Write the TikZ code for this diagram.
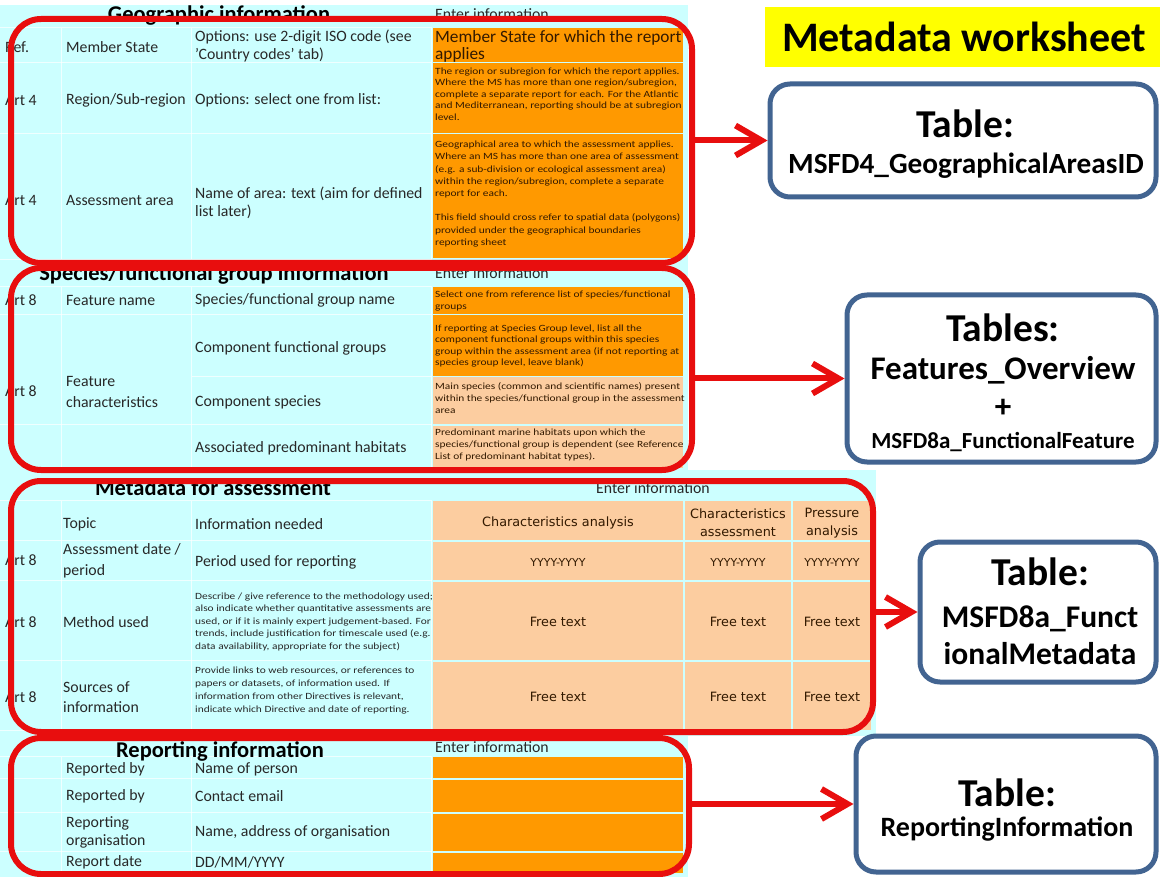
\documentclass[tikz,border=0pt]{standalone}
\usepackage{fontspec}
\setmainfont{Carlito}
\newfontfamily\vdfont{DejaVu Sans}
\newfontfamily\smallfont[FakeStretch=1.2]{Carlito}
\usetikzlibrary{arrows.meta}
\definecolor{redc}{RGB}{232,14,14}
\definecolor{bluec}{RGB}{66,100,145}
\definecolor{cyanc}{RGB}{204,255,255}
\definecolor{orgc}{RGB}{255,153,0}
\definecolor{peachc}{RGB}{252,205,160}
\definecolor{txtc}{RGB}{40,40,40}
\definecolor{otxt}{RGB}{50,25,0}
\definecolor{yelc}{RGB}{255,255,0}
\newcommand\myfs[2]{\fontsize{#1}{#2}\selectfont}
\begin{document}
\begin{tikzpicture}[x=1pt,y=-1pt,
  txt/.style={anchor=west,inner sep=0,text=txtc,font=\myfs{15.8}{18},align=left},
  smalltxt/.style={anchor=west,inner sep=0,text=otxt,font=\smallfont\myfs{9.5}{11.6},align=left},
  mtxt/.style={anchor=west,inner sep=0,text=txtc,font=\smallfont\myfs{9.5}{12.5},align=left},
  hdr/.style={inner sep=0,anchor=base,font=\bfseries\myfs{22.5}{24},text=black},
  enter/.style={inner sep=0,anchor=base west,font=\myfs{15.8}{18},text=txtc},
  vd/.style={inner sep=0,font=\vdfont\myfs{12.8}{18},text=otxt,align=center},
  yy/.style={inner sep=0,font=\vdfont\myfs{11}{13},text=otxt},
  redbox/.style={draw=redc,line width=6pt,rounded corners=30pt,inner sep=0},
  tbox/.style={draw=bluec,line width=5pt,rounded corners=20pt,fill=white,inner sep=0},
  arr/.style={draw=redc,line width=6pt,-{Straight Barb[length=26pt,width=30pt]}},
  btxt/.style={inner sep=0,font=\bfseries\myfs{#1}{#1},text=black},
  grid/.style={draw=white,line width=0.8pt,opacity=0.7}
]
\useasboundingbox (0,0) rectangle (1160,877);
% spreadsheet background
\fill[cyanc] (0,5) rectangle (688,470);
\fill[cyanc] (0,470) rectangle (876,736);
\fill[cyanc] (0,736) rectangle (688,877);
% grid lines
\foreach \yy in {27.5,62.5,133.5,259,286.5,314.5,424.5,500.5,540.5,580.5,660.5,730.5,756.5,778.5,812.5,851.5}
  \draw[grid] (0,\yy) -- (432,\yy);
\draw[grid] (192,376.5) -- (432,376.5);
\foreach \xx in {61,191,431}{
  \draw[grid] (\xx,28) -- (\xx,259);
  \draw[grid] (\xx,287) -- (\xx,468);
  \draw[grid] (\xx,501) -- (\xx,730);
  \draw[grid] (\xx,757) -- (\xx,873);
}
% orange cells
\fill[orgc] (433,28) rectangle (683,62);
\fill[orgc] (433,63.5) rectangle (683,133);
\fill[orgc] (433,134.5) rectangle (683,258);
\fill[orgc] (433,287) rectangle (683,314);
\fill[orgc] (433,315.5) rectangle (683,376);
\fill[peachc] (433,377.5) rectangle (683,424);
\fill[peachc] (433,425.5) rectangle (683,468);
\foreach \ya/\yb in {501/540,541.5/580,581.5/660,661.5/730}{
  \fill[peachc] (433,\ya) rectangle (683,\yb);
  \fill[peachc] (685,\ya) rectangle (791,\yb);
  \fill[peachc] (793,\ya) rectangle (871,\yb);
}
\fill[orgc] (433,757) rectangle (683,778);
\fill[orgc] (433,779.5) rectangle (683,812);
\fill[orgc] (433,813.5) rectangle (683,851);
\fill[orgc] (433,852.5) rectangle (683,873);

% ---- Section 1: Geographic information
\node[hdr] (h1) at (219,22) {Geographic information};
\node[enter] (e1) at (435,20) {Enter information};
\node[txt] (r1a) at (5,47) {Ref.};
\node[txt] (r1b) at (66,47) {Member State};
\node[txt] (r1c) at (195,46) {Options: use 2-digit ISO code (see\\'Country codes' tab)};
\node[txt,text=otxt,font=\myfs{17.3}{17}] (r1d) at (435,46) {Member State for which the report\\applies};
\node[txt] (r2a) at (5,100) {Art 4};
\node[txt] (r2b) at (66,100) {Region/Sub-region};
\node[txt] (r2c) at (195,100) {Options: select one from list:};
\node[smalltxt] (r2d) at (435,94) {The region or subregion for which the report applies.\\Where the MS has more than one region/subregion,\\complete a separate report for each. For the Atlantic\\and Mediterranean, reporting should be at subregion\\level.};
\node[txt] (r3a) at (5,200) {Art 4};
\node[txt] (r3b) at (66,200) {Assessment area};
\node[txt] (r3c) at (195,203) {Name of area: text (aim for defined\\list later)};
\node[smalltxt,font=\smallfont\myfs{9.5}{12.2}] (r3d) at (435,194) {Geographical area to which the assessment applies.\\Where an MS has more than one area of assessment\\(e.g. a sub-division or ecological assessment area)\\within the region/subregion, complete a separate\\report for each.\\[12.2pt]This field should cross refer to spatial data (polygons)\\provided under the geographical boundaries\\reporting sheet};

% ---- Section 2: Species
\node[hdr] (h2) at (214,281) {Species/functional group information};
\node[enter] (e2) at (435,279) {Enter information};
\node[txt] (q1a) at (5,300) {Art 8};
\node[txt] (q1b) at (66,300) {Feature name};
\node[txt] (q1c) at (195,300) {Species/functional group name};
\node[smalltxt] (q1d) at (435,301) {Select one from reference list of species/functional\\groups};
\node[txt] (q2a) at (5,391) {Art 8};
\node[txt,font=\myfs{15.8}{21}] (q2b) at (66,392) {Feature\\characteristics};
\node[txt] (q2c) at (195,348) {Component functional groups};
\node[smalltxt] (q2d) at (435,346) {If reporting at Species Group level, list all the\\component functional groups within this species\\group within the assessment area (if not reporting at\\species group level, leave blank)};
\node[txt] (q3c) at (195,402) {Component species};
\node[smalltxt] (q3d) at (435,398) {Main species (common and scientific names) present\\within the species/functional group in the assessment\\area};
\node[txt] (q4c) at (195,448) {Associated predominant habitats};
\node[smalltxt] (q4d) at (435,445) {Predominant marine habitats upon which the\\species/functional group is dependent (see Reference\\List of predominant habitat types).};

% ---- Section 3: Metadata
\node[hdr] (h3) at (213,495) {Metadata for assessment};
\node[enter,anchor=base] (e3) at (653,493) {Enter information};
\node[txt] (m0b) at (63,524) {Topic};
\node[txt] (m0c) at (195,524) {Information needed};
\node[vd] (m0d) at (558,523) {Characteristics analysis};
\node[vd] (m0e) at (738,523) {Characteristics\\assessment};
\node[vd] (m0f) at (832,523) {Pressure\\analysis};
\node[txt] (m1a) at (5,560) {Art 8};
\node[txt,font=\myfs{15.8}{21}] (m1b) at (63,561) {Assessment date /\\period};
\node[txt] (m1c) at (195,562) {Period used for reporting};
\node[yy] (m1d) at (558,562) {YYYY-YYYY};
\node[yy] (m1e) at (738,562) {YYYY-YYYY};
\node[yy] (m1f) at (832,562) {YYYY-YYYY};
\node[txt] (m2a) at (5,622) {Art 8};
\node[txt] (m2b) at (63,622) {Method used};
\node[mtxt] (m2c) at (195,622) {Describe / give reference to the methodology used;\\also indicate whether quantitative assessments are\\used, or if it is mainly expert judgement-based. For\\trends, include justification for timescale used (e.g.\\data availability, appropriate for the subject)};
\node[vd] (m2d) at (558,622) {Free text};
\node[vd] (m2e) at (738,622) {Free text};
\node[vd] (m2f) at (832,622) {Free text};
\node[txt] (m3a) at (5,697) {Art 8};
\node[txt,font=\myfs{15.8}{20}] (m3b) at (63,697) {Sources of\\information};
\node[mtxt,font=\smallfont\myfs{9.5}{13}] (m3c) at (195,691) {Provide links to web resources, or references to\\papers or datasets, of information used. If\\information from other Directives is relevant,\\indicate which Directive and date of reporting.};
\node[vd] (m3d) at (558,697) {Free text};
\node[vd] (m3e) at (738,697) {Free text};
\node[vd] (m3f) at (832,697) {Free text};

% ---- Section 4: Reporting
\node[hdr] (h4) at (220,757) {Reporting information};
\node[enter] (e4) at (435,752) {Enter information};
\node[txt] (p1b) at (66,769) {Reported by};
\node[txt] (p1c) at (195,769) {Name of person};
\node[txt] (p2b) at (66,796) {Reported by};
\node[txt] (p2c) at (195,796) {Contact email};
\node[txt] (p3b) at (66,832) {Reporting\\organisation};
\node[txt] (p3c) at (195,832) {Name, address of organisation};
\node[txt] (p4b) at (66,862) {Report date};
\node[txt] (p4c) at (195,862) {DD/MM/YYYY};

% ---- red outlines
\node[redbox,minimum width=681pt,minimum height=244pt] (s1) at (351.5,141) {};
\node[redbox,minimum width=681pt,minimum height=202pt] (s2) at (351.5,369) {};
\node[redbox,minimum width=862pt,minimum height=251pt] (s3) at (442,606.5) {};
\node[redbox,minimum width=678pt,minimum height=136pt] (s4) at (350,806) {};

% ---- title
\node[fill=yelc,minimum width=395pt,minimum height=60pt,inner sep=0] (title) at (962.5,37) {};
\node[btxt=42] (titletxt) at (964,37) {Metadata worksheet};

% ---- table boxes
\node[tbox,minimum width=386pt,minimum height=113pt] (b1) at (963,140.5) {};
\node[btxt=39.5] (b1a) at (965,124) {Table:};
\node[btxt=29.3] (b1b) at (966,166) {MSFD4\_GeographicalAreasID};

\node[tbox,minimum width=309pt,minimum height=167pt] (b2) at (1001.5,378.5) {};
\node[btxt=39.5] (b2a) at (1003,328) {Tables:};
\node[btxt=33] (b2b) at (1003,370) {Features\_Overview};
\node[btxt=33] (b2c) at (1003,408) {+};
\node[btxt=23] (b2d) at (1003,442) {MSFD8a\_FunctionalFeature};

\node[tbox,minimum width=236pt,minimum height=140pt] (b3) at (1038,612) {};
\node[btxt=39.5] (b3a) at (1040,572) {Table:};
\node[btxt=31.5] (b3b) at (1040,619) {MSFD8a\_Funct};
\node[btxt=31.5] (b3c) at (1040,654) {ionalMetadata};

\node[tbox,minimum width=300pt,minimum height=136pt] (b4) at (1006,804) {};
\node[btxt=39.5] (b4a) at (1007,793) {Table:};
\node[btxt=28] (b4b) at (1007,829) {ReportingInformation};

% ---- arrows
\draw[arr] (s1.east |- b1.west) -- (b1.west);
\draw[arr] (s2.east |- b2.west) -- (b2.west);
\draw[arr] (s3.east |- b3.west) -- (b3.west);
\draw[arr] (s4.east |- b4.west) -- (b4.west);
\end{tikzpicture}
\end{document}
